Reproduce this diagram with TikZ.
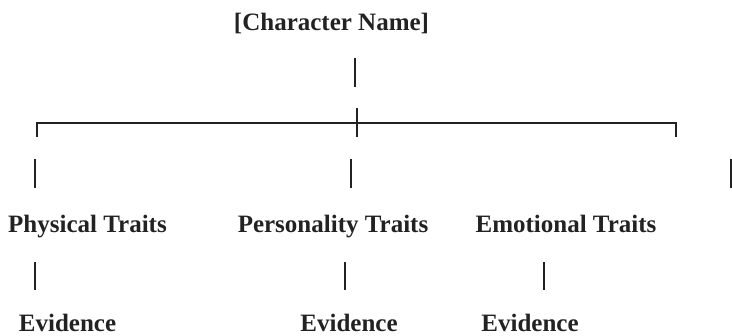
\documentclass[tikz,border=0pt]{standalone}
\usepackage{fontspec}
\setmainfont{Liberation Serif}
\usepackage{xcolor}
\usetikzlibrary{positioning}
\definecolor{ink}{HTML}{222222}
\tikzset{
    label text/.style={font=\fontsize{25bp}{30bp}\selectfont\bfseries, text=ink, inner sep=0pt, anchor=base},
    stem/.style={draw=ink, line width=2bp},
}

\begin{document}
\begin{tikzpicture}[x=1bp,y=-1bp]
    \useasboundingbox (0,0) rectangle (732,335);

    % Character
    \node[label text] (C) at (331.5,30) {[Character Name]};
    \coordinate (C1) at (355,58);
    \coordinate (C2) at (355,87);
    \draw [stem] (C1) -- (C2);

    % Bracket
    \coordinate (L1) at (37,137);
    \coordinate (L2) at (37,123);
    \coordinate (R2) at (676,123);
    \coordinate (R1) at (676,137);
    \coordinate (M1) at (357,108);
    \coordinate (M2) at (357,137);
    \draw [stem] (L1) -- (L2) -- (R2) -- (R1);
    \draw [stem] (M1) -- (M2);

    % Stems above traits
    \coordinate (P1) at (35,159);  \coordinate (P2) at (35,188);
    \coordinate (Q1) at (351,159); \coordinate (Q2) at (351,188);
    \coordinate (E1) at (731,159); \coordinate (E2) at (731,188);
    \draw [stem] (P1) -- (P2);
    \draw [stem] (Q1) -- (Q2);
    \draw [stem] (E1) -- (E2);

    % Traits
    \node[label text] (T1) at (87.5,232) {Physical Traits};
    \node[label text] (T2) at (333,232) {Personality Traits};
    \node[label text] (T3) at (566,232) {Emotional Traits};

    % Stems above evidence
    \coordinate (V1) at (35,262);  \coordinate (V2) at (35,290);
    \coordinate (W1) at (345,262); \coordinate (W2) at (345,290);
    \coordinate (X1) at (544,262); \coordinate (X2) at (544,290);
    \draw [stem] (V1) -- (V2);
    \draw [stem] (W1) -- (W2);
    \draw [stem] (X1) -- (X2);

    % Evidence
    \node[label text] (D1) at (67.5,331) {Evidence};
    \node[label text] (D2) at (349,331) {Evidence};
    \node[label text] (D3) at (530,331) {Evidence};
\end{tikzpicture}
\end{document}
